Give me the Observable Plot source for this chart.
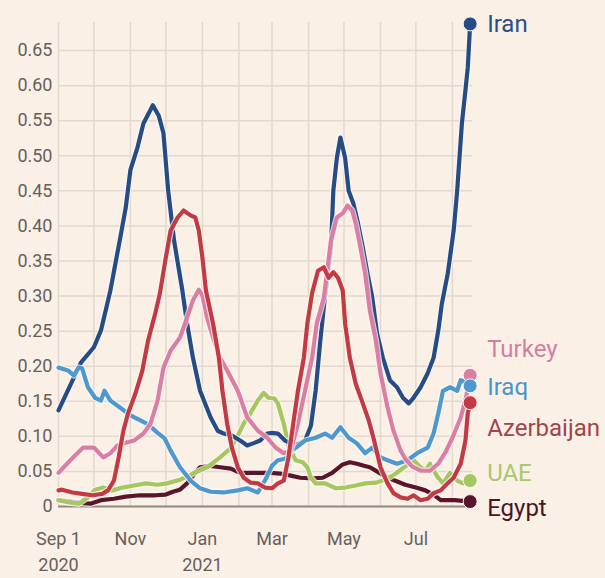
<!DOCTYPE html>
<html>
<head>
<meta charset="utf-8">
<script src="https://cdn.jsdelivr.net/npm/d3@7"></script>
<script src="https://cdn.jsdelivr.net/npm/@observablehq/plot@0.6"></script>
<style>
  html, body { margin: 0; padding: 0; background: #fbf0e6; }
  #chart { width: 605px; height: 578px; }
</style>
</head>
<body>
<div id="chart"></div>
<script>
// Daily new cases per 100k people (7-day average), selected Middle East countries
const countries = ["Iran", "Turkey", "Iraq", "Azerbaijan", "UAE", "Egypt"];

const iran = [
  ["2020-09-01",0.137],["2020-09-20",0.205],["2020-10-01",0.227],["2020-10-07",0.251],["2020-10-15",0.308],
  ["2020-10-24",0.389],["2020-10-28",0.426],["2020-11-01",0.480],["2020-11-07",0.512],["2020-11-12",0.546],
  ["2020-11-20",0.572],["2020-11-25",0.557],["2020-11-29",0.532],["2020-12-03",0.450],["2020-12-08",0.379],
  ["2020-12-15",0.308],["2020-12-19",0.261],["2020-12-24",0.212],["2020-12-30",0.165],["2021-01-08",0.127],
  ["2021-01-14",0.108],["2021-01-19",0.104],["2021-01-26",0.101],["2021-02-02",0.094],["2021-02-08",0.087],
  ["2021-02-13",0.090],["2021-02-19",0.094],["2021-02-25",0.104],["2021-03-01",0.105],["2021-03-06",0.104],
  ["2021-03-12",0.094],["2021-03-21",0.087],["2021-03-29",0.094],["2021-04-03",0.115],["2021-04-07",0.165],
  ["2021-04-11",0.237],["2021-04-15",0.301],["2021-04-20",0.370],["2021-04-22",0.450],["2021-04-25",0.497],
  ["2021-04-28",0.526],["2021-05-02",0.497],["2021-05-05",0.450],["2021-05-09",0.432],["2021-05-13",0.403],
  ["2021-05-17",0.369],["2021-05-21",0.332],["2021-05-25",0.298],["2021-05-29",0.247],["2021-06-03",0.212],
  ["2021-06-09",0.180],["2021-06-15",0.170],["2021-06-20",0.155],["2021-06-25",0.147],["2021-06-29",0.155],
  ["2021-07-05",0.170],["2021-07-11",0.190],["2021-07-16",0.212],["2021-07-20",0.251],["2021-07-23",0.289],
  ["2021-07-28",0.332],["2021-08-02",0.393],["2021-08-05",0.450],["2021-08-09",0.546],["2021-08-12",0.593],
  ["2021-08-14",0.626],["2021-08-16",0.688]
];

const turkey = [
  ["2020-09-01",0.048],["2020-09-11",0.066],["2020-09-22",0.084],["2020-10-01",0.084],["2020-10-09",0.070],
  ["2020-10-15",0.076],["2020-10-21",0.087],["2020-10-26",0.090],["2020-11-04",0.094],["2020-11-12",0.104],
  ["2020-11-18",0.118],["2020-11-24",0.151],["2020-11-29",0.198],["2020-12-05",0.222],["2020-12-13",0.241],
  ["2020-12-19",0.269],["2020-12-24",0.294],["2020-12-29",0.309],["2021-01-01",0.301],["2021-01-05",0.269],
  ["2021-01-10",0.241],["2021-01-16",0.212],["2021-01-22",0.194],["2021-01-31",0.165],["2021-02-08",0.127],
  ["2021-02-17",0.108],["2021-02-25",0.098],["2021-03-04",0.084],["2021-03-11",0.076],["2021-03-17",0.080],
  ["2021-03-23",0.118],["2021-03-29",0.165],["2021-04-04",0.212],["2021-04-08",0.261],["2021-04-14",0.298],
  ["2021-04-20",0.379],["2021-04-25",0.412],["2021-04-30",0.418],["2021-05-04",0.429],["2021-05-08",0.422],
  ["2021-05-11",0.403],["2021-05-15",0.369],["2021-05-19",0.332],["2021-05-23",0.279],["2021-05-28",0.237],
  ["2021-06-01",0.190],["2021-06-07",0.141],["2021-06-12",0.108],["2021-06-18",0.080],["2021-06-22",0.068],
  ["2021-06-28",0.057],["2021-07-05",0.051],["2021-07-13",0.051],["2021-07-20",0.061],["2021-07-26",0.077],
  ["2021-08-01",0.098],["2021-08-08",0.127],["2021-08-12",0.151],["2021-08-16",0.187]
];

const iraq = [
  ["2020-09-01",0.198],["2020-09-09",0.194],["2020-09-14",0.187],["2020-09-18",0.198],["2020-09-21",0.197],
  ["2020-09-26",0.170],["2020-10-02",0.155],["2020-10-07",0.151],["2020-10-10",0.165],["2020-10-15",0.151],
  ["2020-10-24",0.140],["2020-11-01",0.130],["2020-11-09",0.123],["2020-11-16",0.117],["2020-11-24",0.105],
  ["2020-11-30",0.097],["2020-12-05",0.080],["2020-12-13",0.056],["2020-12-22",0.037],["2020-12-30",0.026],
  ["2021-01-08",0.021],["2021-01-19",0.020],["2021-01-31",0.023],["2021-02-08",0.026],["2021-02-17",0.020],
  ["2021-02-23",0.037],["2021-03-01",0.058],["2021-03-06",0.066],["2021-03-12",0.068],["2021-03-18",0.080],
  ["2021-03-23",0.086],["2021-03-29",0.094],["2021-04-07",0.098],["2021-04-15",0.104],["2021-04-21",0.098],
  ["2021-04-28",0.113],["2021-05-05",0.098],["2021-05-12",0.090],["2021-05-19",0.076],["2021-05-25",0.084],
  ["2021-06-01",0.070],["2021-06-07",0.066],["2021-06-15",0.061],["2021-06-24",0.066],["2021-07-02",0.076],
  ["2021-07-11",0.084],["2021-07-16",0.104],["2021-07-20",0.133],["2021-07-24",0.165],["2021-07-30",0.170],
  ["2021-08-05",0.165],["2021-08-08",0.180],["2021-08-14",0.175],["2021-08-16",0.172]
];

const azerbaijan = [
  ["2020-09-01",0.023],["2020-09-04",0.024],["2020-09-13",0.020],["2020-09-21",0.018],["2020-09-30",0.016],
  ["2020-10-08",0.018],["2020-10-13",0.023],["2020-10-18",0.037],["2020-10-22",0.070],["2020-10-26",0.108],
  ["2020-10-30",0.133],["2020-11-05",0.160],["2020-11-11",0.193],["2020-11-16",0.237],["2020-11-22",0.275],
  ["2020-11-26",0.304],["2020-12-01",0.355],["2020-12-05",0.393],["2020-12-11",0.412],["2020-12-16",0.422],
  ["2020-12-22",0.415],["2020-12-26",0.412],["2020-12-29",0.393],["2021-01-01",0.355],["2021-01-04",0.308],
  ["2021-01-10",0.261],["2021-01-15",0.212],["2021-01-18",0.165],["2021-01-22",0.118],["2021-01-26",0.084],
  ["2021-01-31",0.056],["2021-02-05",0.041],["2021-02-11",0.034],["2021-02-17",0.033],["2021-02-23",0.027],
  ["2021-03-01",0.026],["2021-03-06",0.033],["2021-03-11",0.037],["2021-03-15",0.070],["2021-03-19",0.118],
  ["2021-03-23",0.165],["2021-03-28",0.212],["2021-03-31",0.261],["2021-04-04",0.304],["2021-04-09",0.336],
  ["2021-04-14",0.341],["2021-04-18",0.326],["2021-04-22",0.334],["2021-04-26",0.326],["2021-04-30",0.308],
  ["2021-05-02",0.261],["2021-05-06",0.212],["2021-05-11",0.175],["2021-05-17",0.147],["2021-05-22",0.123],
  ["2021-05-26",0.098],["2021-05-28",0.084],["2021-06-01",0.056],["2021-06-07",0.033],["2021-06-12",0.019],
  ["2021-06-18",0.013],["2021-06-24",0.011],["2021-06-29",0.016],["2021-07-05",0.009],["2021-07-11",0.011],
  ["2021-07-16",0.019],["2021-07-22",0.023],["2021-07-28",0.033],["2021-08-02",0.041],["2021-08-08",0.061],
  ["2021-08-12",0.094],["2021-08-14",0.133],["2021-08-16",0.148]
];

const uae = [
  ["2020-09-01",0.009],["2020-09-09",0.006],["2020-09-18",0.004],["2020-09-26",0.013],["2020-10-02",0.024],
  ["2020-10-09",0.027],["2020-10-17",0.023],["2020-10-25",0.027],["2020-11-04",0.030],["2020-11-14",0.033],
  ["2020-11-24",0.031],["2020-12-02",0.033],["2020-12-13",0.038],["2020-12-24",0.047],["2021-01-05",0.056],
  ["2021-01-16",0.070],["2021-01-25",0.083],["2021-01-31",0.101],["2021-02-05",0.118],["2021-02-11",0.134],
  ["2021-02-17",0.151],["2021-02-22",0.162],["2021-02-26",0.155],["2021-03-03",0.154],["2021-03-06",0.147],
  ["2021-03-11",0.118],["2021-03-15",0.087],["2021-03-21",0.066],["2021-03-27",0.063],["2021-03-31",0.056],
  ["2021-04-03",0.041],["2021-04-07",0.033],["2021-04-15",0.033],["2021-04-24",0.026],["2021-05-02",0.027],
  ["2021-05-11",0.030],["2021-05-19",0.033],["2021-05-28",0.034],["2021-06-05",0.038],["2021-06-13",0.046],
  ["2021-06-22",0.057],["2021-06-29",0.066],["2021-07-05",0.056],["2021-07-09",0.051],["2021-07-13",0.061],
  ["2021-07-19",0.043],["2021-07-24",0.033],["2021-07-30",0.048],["2021-08-05",0.037],["2021-08-10",0.033],
  ["2021-08-16",0.037]
];

const egypt = [
  ["2020-09-01",0.009],["2020-09-15",0.006],["2020-09-28",0.004],["2020-10-07",0.009],["2020-10-18",0.011],
  ["2020-10-28",0.014],["2020-11-09",0.016],["2020-11-22",0.016],["2020-12-01",0.017],["2020-12-07",0.021],
  ["2020-12-13",0.024],["2020-12-19",0.033],["2020-12-24",0.044],["2020-12-30",0.056],["2021-01-08",0.058],
  ["2021-01-16",0.056],["2021-01-25",0.054],["2021-02-02",0.048],["2021-02-11",0.048],["2021-02-19",0.048],
  ["2021-02-28",0.048],["2021-03-08",0.047],["2021-03-17",0.044],["2021-03-25",0.041],["2021-04-04",0.040],
  ["2021-04-13",0.041],["2021-04-21",0.048],["2021-04-30",0.060],["2021-05-06",0.063],["2021-05-12",0.061],
  ["2021-05-18",0.058],["2021-05-23",0.056],["2021-05-29",0.050],["2021-06-05",0.043],["2021-06-13",0.037],
  ["2021-06-22",0.031],["2021-07-01",0.027],["2021-07-09",0.023],["2021-07-16",0.017],["2021-07-22",0.009],
  ["2021-08-03",0.009],["2021-08-16",0.007]
];

const yTicks = [0, 0.05, 0.1, 0.15, 0.2, 0.25, 0.3, 0.35, 0.4, 0.45, 0.5, 0.55, 0.6, 0.65];
const xTickDates = ["2020-09-01", "2020-11-01", "2021-01-01", "2021-03-01", "2021-05-01", "2021-07-01"];
const xTickLabels = ["Sep 1\n2020", "Nov", "Jan\n2021", "Mar", "May", "Jul"];

// Styling
const lineColor = {
  Iran: "#264c86", Turkey: "#db7ea6", Iraq: "#4d99cf",
  Azerbaijan: "#c23a43", UAE: "#a5c760", Egypt: "#5a1628"
};
const textColor = {
  Iran: "#2b4e86", Turkey: "#d27ea3", Iraq: "#4a94c6",
  Azerbaijan: "#a3434a", UAE: "#a9c86d", Egypt: "#4a1525"
};
// vertical nudges (px) that keep the end labels apart
const labelShift = { Iran: 0, Turkey: -26, Iraq: 1, Azerbaijan: 26, UAE: -7, Egypt: 7 };
// stacking order of the lines, bottom first
const drawOrder = ["Egypt", "UAE", "Iran", "Iraq", "Turkey", "Azerbaijan"];

const seriesByName = { Iran: iran, Turkey: turkey, Iraq: iraq, Azerbaijan: azerbaijan, UAE: uae, Egypt: egypt };
const parse = d3.utcParse("%Y-%m-%d");
const rows = name => seriesByName[name].map(([d, v]) => ({ country: name, date: parse(d), value: v }));
const lastPoints = countries.map(c => rows(c).at(-1));

const monthLines = d3.utcMonths(parse("2020-09-01"), parse("2021-08-02"));
const xTicks = xTickDates.map(parse);
const labelFor = new Map(xTicks.map((d, i) => [+d, xTickLabels[i]]));

const lineMarks = drawOrder.flatMap(c => [
  Plot.line(rows(c), { x: "date", y: "value", stroke: "#fdf7f1", strokeWidth: 6.5, strokeOpacity: 0.75,
                       strokeLinejoin: "round", strokeLinecap: "round" }),
  Plot.line(rows(c), { x: "date", y: "value", stroke: lineColor[c], strokeWidth: 4.2,
                       strokeLinejoin: "round", strokeLinecap: "round" })
]);

const chart = Plot.plot({
  width: 605,
  height: 578,
  marginLeft: 58,
  marginRight: 133,
  marginTop: 22,
  marginBottom: 72,
  style: { background: "#fbf0e6", fontFamily: "Roboto, 'Open Sans', sans-serif", color: "#66605b" },
  x: { type: "utc", domain: [parse("2020-09-01"), parse("2021-08-18")], label: null },
  y: { domain: [0, 0.69], label: null },
  marks: [
    Plot.gridX(monthLines, { stroke: "#e3d8ce", strokeOpacity: 1, strokeWidth: 1.5 }),
    Plot.gridY(yTicks.filter(v => v > 0), { stroke: "#e3d8ce", strokeOpacity: 1, strokeWidth: 1.5 }),
    Plot.ruleY([0], { stroke: "#8d8882", strokeWidth: 2 }),
    Plot.axisY(yTicks, { tickSize: 0, tickPadding: 6, fontSize: 18, fill: "#66605b", label: null,
                         tickFormat: v => v === 0 ? "0" : v.toFixed(2) }),
    Plot.axisX(xTicks, { tickSize: 0, tickPadding: 20, fontSize: 18, fill: "#66605b", lineHeight: 1.45,
                         label: null, tickFormat: d => labelFor.get(+d) }),
    ...lineMarks,
    Plot.dot(lastPoints, { x: "date", y: "value", r: 7, fill: d => lineColor[d.country],
                           stroke: "#fdf7f1", strokeWidth: 1 }),
    ...countries.map(c => Plot.text(lastPoints.filter(d => d.country === c), {
      x: "date", y: "value", text: "country", dx: 17, dy: labelShift[c],
      textAnchor: "start", lineAnchor: "middle", fontSize: 24, fill: textColor[c]
    }))
  ]
});

document.getElementById("chart").appendChild(chart);
</script>
</body>
</html>
